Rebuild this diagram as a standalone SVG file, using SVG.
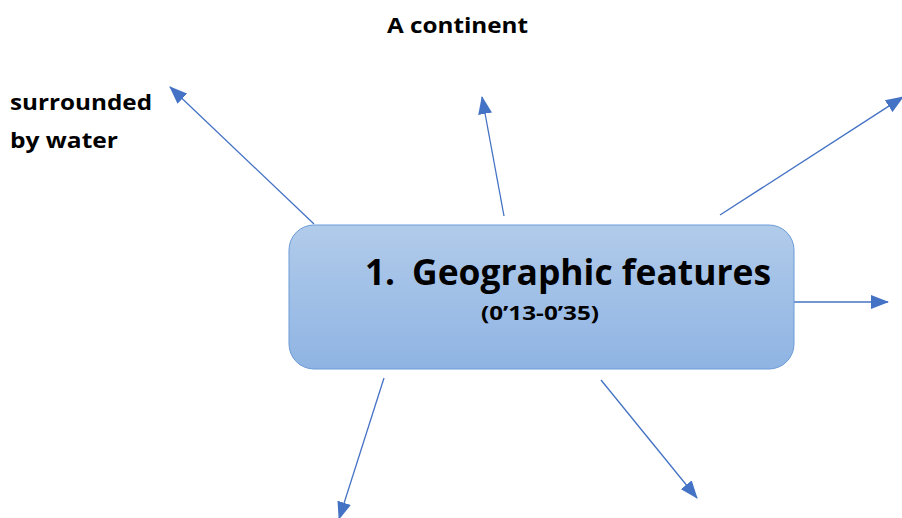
<svg xmlns="http://www.w3.org/2000/svg" width="902" height="518" viewBox="0 0 902 518">
<defs>
<linearGradient id="g" x1="0" y1="0" x2="0" y2="1">
<stop offset="0" stop-color="#b1cbea"/>
<stop offset="1" stop-color="#8fb4e3"/>
</linearGradient>
<marker id="ah" viewBox="0 0 18 14" refX="17" refY="7" markerWidth="18" markerHeight="14" markerUnits="userSpaceOnUse" orient="auto">
<path d="M0,0 L18,7 L0,14 Z" fill="#4472c4"/>
</marker>
<style>
.c{stroke:#4472c4;stroke-width:1.3;fill:none;marker-end:url(#ah)}
.t{font-family:"Open Sans",Lato,"Liberation Sans",sans-serif;font-weight:bold;fill:#000}
</style>
</defs>
<rect width="902" height="518" fill="#fff"/>
<g id="connectors">
<line class="c" x1="314" y1="224" x2="170" y2="87"/>
<line class="c" x1="504" y1="216" x2="482" y2="97"/>
<line class="c" x1="720" y1="215" x2="903" y2="97"/>
<line class="c" x1="794" y1="302" x2="888" y2="302"/>
<line class="c" x1="384" y1="378" x2="339" y2="519"/>
<line class="c" x1="601" y1="380" x2="697" y2="498"/>
</g>
<g id="center">
<rect x="289" y="225" width="505" height="144" rx="25" fill="url(#g)" stroke="#6a9bd6" stroke-width="1"/>
<text class="t" x="365" y="285" font-size="35" textLength="30" lengthAdjust="spacingAndGlyphs">1.</text>
<text class="t" x="412" y="285" font-size="35" textLength="359" lengthAdjust="spacingAndGlyphs">Geographic features</text>
<text class="t" x="481" y="320" font-size="20" textLength="118" lengthAdjust="spacingAndGlyphs">(0’13-0’35)</text>
</g>
<g id="continent">
<text class="t" x="387" y="33" font-size="22" textLength="141" lengthAdjust="spacingAndGlyphs">A continent</text>
</g>
<g id="water">
<text class="t" x="10" y="110" font-size="22" textLength="142" lengthAdjust="spacingAndGlyphs">surrounded</text>
<text class="t" x="10" y="148" font-size="22" textLength="108" lengthAdjust="spacingAndGlyphs">by water</text>
</g>
</svg>
